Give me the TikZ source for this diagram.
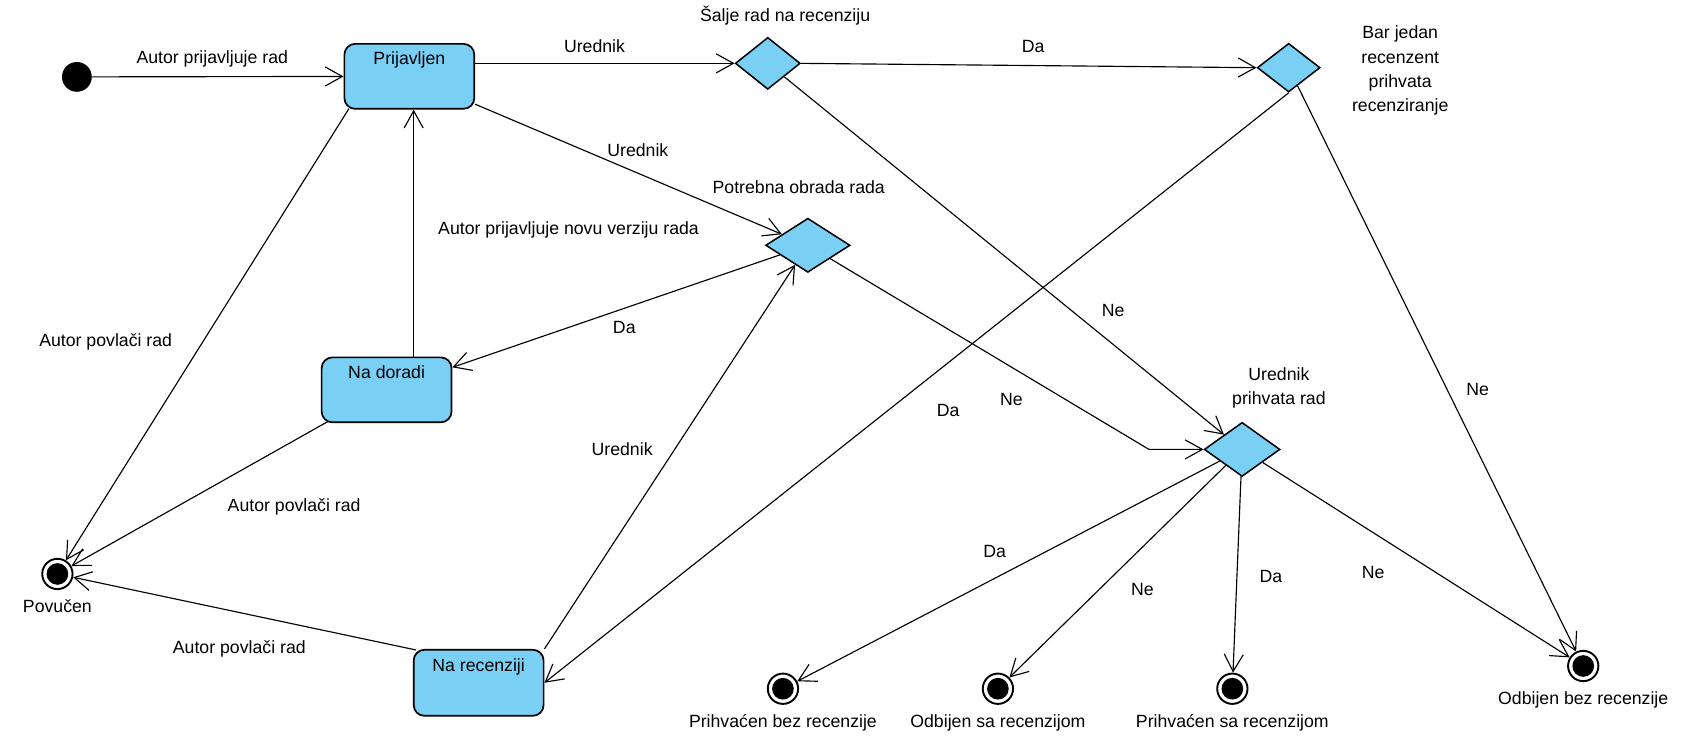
\documentclass[tikz,border=0pt]{standalone}
\usepackage{fontspec}
\setmainfont{Liberation Sans}
\usetikzlibrary{shapes.geometric, arrows.meta, positioning}
\definecolor{stateblue}{HTML}{7ACFF5}

\begin{document}
\begin{tikzpicture}[x=0.02cm, y=-0.02cm, font=\fontsize{9.3}{12.8}\selectfont]
\tikzstyle{statebox} = [rectangle, rounded corners=0.2cm, minimum width=2.4cm, minimum height=1.2cm, inner ysep=0.1cm, text height=0.28cm, text depth=0.7cm, draw=black, line width=0.9pt, fill=stateblue]
\tikzstyle{choicebox} = [diamond, inner sep=0pt, draw=black, line width=0.8pt, fill=stateblue]
\tikzstyle{startdot} = [circle, fill=black, minimum size=0.55cm, inner sep=0pt]
\tikzstyle{enddot} = [circle, draw=black, line width=1pt, fill=white, minimum size=0.56cm, inner sep=0pt, path picture={\fill[black] (path picture bounding box.center) circle (0.2cm);}]
\tikzstyle{trans} = [draw, line width=0.6pt, -{Straight Barb[length=9pt,width=10pt]}]

\useasboundingbox (0,0) rectangle (1568,690);

\node (init) [startdot] at (71,71) {};
\node (prijavljen) [statebox] at (378,70.5) {Prijavljen};
\node (nadoradi) [statebox] at (357,360) {Na doradi};
\node (narecenziji) [statebox, minimum height=1.22cm] at (442,630.5) {Na recenziji};

\node (salje) [choicebox, minimum width=1.2cm, minimum height=0.96cm] at (709,58.5) {};
\node (barjedan) [choicebox, minimum width=1.16cm, minimum height=0.9cm] at (1190,62.5) {};
\node (obrada) [choicebox, minimum width=1.56cm, minimum height=1cm] at (746,226.5) {};
\node (prihvata) [choicebox, minimum width=1.4cm, minimum height=1cm] at (1147,415) {};

\node (saljetxt) at (725,14) {Šalje rad na recenziju};
\node (barjedantxt) [align=center] at (1293,65.4) {Bar jedan\\recenzent\\prihvata\\recenziranje};
\node (obradatxt) at (737.6,173) {Potrebna obrada rada};
\node (prihvatatxt) [align=center] at (1181,358) {Urednik\\prihvata rad};

\node (povucen) [enddot] at (53,530) {};
\node (prihbez) [enddot] at (723,636) {};
\node (odbsa) [enddot] at (921.5,636) {};
\node (prihsa) [enddot] at (1138,636) {};
\node (odbbez) [enddot] at (1462,615) {};

\node (povucentxt) [below=0.05cm of povucen] {Povučen};
\node (prihbeztxt) [below=0.05cm of prihbez] {Prihvaćen bez recenzije};
\node (odbsatxt) [below=0.05cm of odbsa] {Odbijen sa recenzijom};
\node (prihsatxt) [below=0.05cm of prihsa] {Prihvaćen sa recenzijom};
\node (odbbeztxt) [below=0.05cm of odbbez] {Odbijen bez recenzije};

\coordinate (lom) at (1061,415);

\draw[trans] (init) -- (prijavljen);
\draw[trans] (prijavljen.east |- salje) -- (salje);
\draw[trans] (salje.east) -- (barjedan.west);
\draw[trans] (salje) -- (prihvata);
\draw[trans] (barjedan.south) -- (narecenziji.east);
\draw[trans] (barjedan) -- (odbbez);
\draw[trans] (prijavljen) -- (obrada);
\draw[trans] ([xshift=0.08cm]nadoradi.north -| prijavljen.south) -- ([xshift=0.08cm]prijavljen.south);
\draw[trans] (obrada) -- (nadoradi);
\draw[trans] (narecenziji.north east) -- (obrada);
\draw[trans] (obrada) -- (lom) -- (prihvata.west);
\draw[trans] (prihvata) -- (prihbez);
\draw[trans] (prihvata) -- (odbsa);
\draw[trans] (prihvata) -- (prihsa);
\draw[trans] (prihvata) -- (odbbez);
\draw[trans] ([xshift=0.1cm, yshift=0.02cm]prijavljen.south west) -- (povucen);
\draw[trans] ([xshift=0.13cm, yshift=0.03cm]nadoradi.south west) -- (povucen);
\draw[trans] ([xshift=0.06cm, yshift=-0.02cm]narecenziji.north west) -- (povucen);

\node (t1) at (196,54) {Autor prijavljuje rad};
\node (t2) at (549,43) {Urednik};
\node (t3) at (954,43) {Da};
\node (t4) at (1028,287) {Ne};
\node (t5) at (875.5,379.5) {Da};
\node (t6) at (1364.6,359.5) {Ne};
\node (t7) at (589,138.5) {Urednik};
\node (t8) at (525,212.4) {Autor prijavljuje novu verziju rada};
\node (t9) at (576.5,302) {Da};
\node (t10) at (574.5,415) {Urednik};
\node (t11) at (934,369) {Ne};
\node (t12) at (918.5,509.4) {Da};
\node (t13) at (1055,544) {Ne};
\node (t14) at (1173.6,532.5) {Da};
\node (t15) at (1268,528.5) {Ne};
\node (t16) at (97.6,315.5) {Autor povlači rad};
\node (t17) at (271.6,468) {Autor povlači rad};
\node (t18) at (221,599) {Autor povlači rad};

\end{tikzpicture}
\end{document}
